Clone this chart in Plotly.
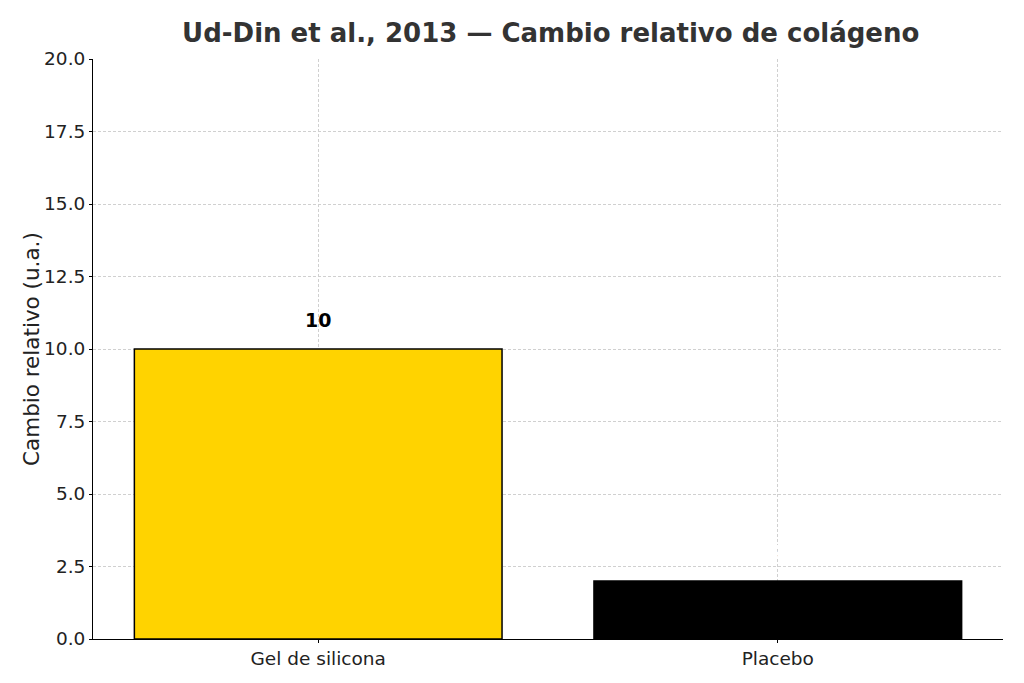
import plotly.graph_objects as go

categorias = ["Gel de silicona", "Placebo"]
valores = [10, 2]
colores = ["#FFD300", "#000000"]
colores_texto = ["black", "white"]

fig = go.Figure()
fig.add_trace(go.Bar(x=categorias, y=valores, width=0.8,
                     marker=dict(color=colores, line=dict(color="black", width=1.5)),
                     showlegend=False))

# etiquetas encima de las barras
for c, v, tc in zip(categorias, valores, colores_texto):
    fig.add_annotation(x=c, y=v + 0.55, text="<b>%d</b>" % v, showarrow=False,
                       yanchor="bottom", font=dict(size=19, color=tc))

# titulo del eje y como anotacion para poder colocarlo
fig.add_annotation(x=0, y=0.5, xref="paper", yref="paper", xshift=-62,
                   text="Cambio relativo (u.a.)", textangle=-90, showarrow=False,
                   xanchor="center", yanchor="middle", font=dict(size=21.5, color="#222"))

# la pagina tiene 8px de margen en el body, se compensa aqui
fig.update_layout(
    width=1024, height=683,
    paper_bgcolor="white", plot_bgcolor="white",
    font=dict(family="DejaVu Sans", size=18, color="#222"),
    margin=dict(l=85, r=29, t=51, b=52),
    title=dict(text="<b>Ud-Din et al., 2013 — Cambio relativo de colágeno</b>",
               x=0.53, xanchor="center", y=0.963, yanchor="middle",
               font=dict(size=26, color="#333")),
)
fig.update_xaxes(range=[-0.49, 1.49], showline=True, linecolor="black", linewidth=1,
                 showgrid=True, gridcolor="#d0d0d0", griddash="3px,2px", gridwidth=1,
                 ticks="outside", ticklen=3, tickcolor="black", layer="above traces",
                 tickfont=dict(size=18.5), automargin=False)
fig.update_yaxes(range=[0, 20], dtick=2.5, tickformat=".1f", showline=True, linecolor="black",
                 linewidth=1, showgrid=True, gridcolor="#d0d0d0", griddash="3px,2px", gridwidth=1,
                 ticks="outside", ticklen=3, tickcolor="black", layer="above traces",
                 zeroline=False, automargin=False, tickfont=dict(size=18.5))

fig.write_html("out.html")
